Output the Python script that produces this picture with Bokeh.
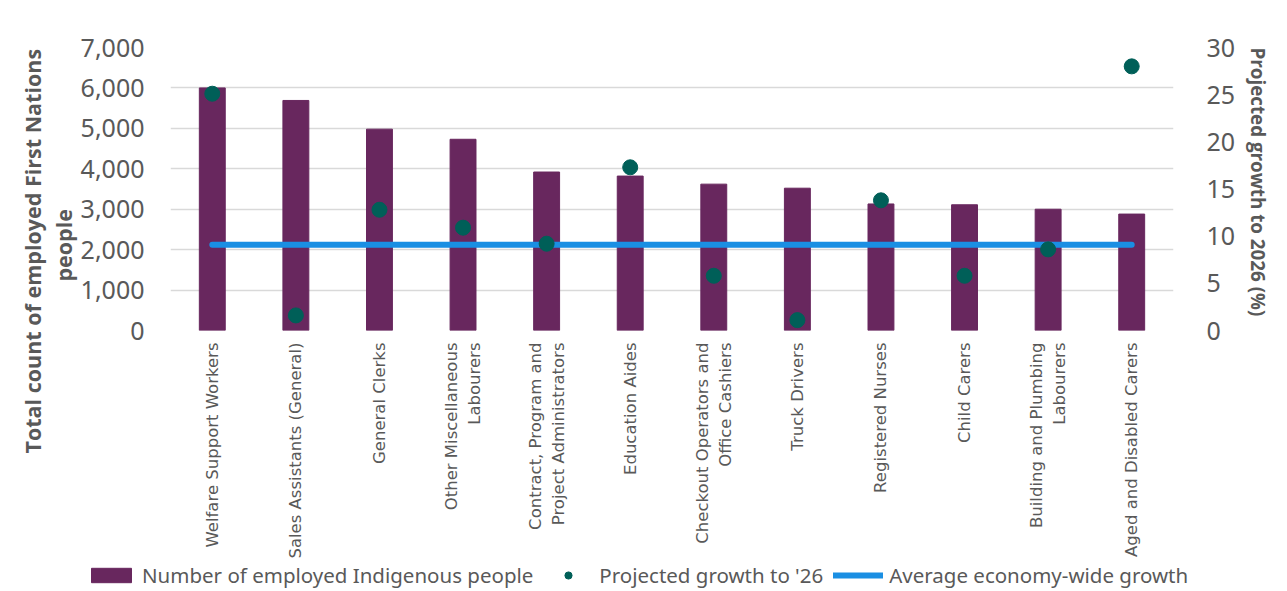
from math import pi
from bokeh.plotting import figure
from bokeh.layouts import column
from bokeh.models import (Range1d, FactorRange, LinearAxis, Legend, LegendItem, Title,
                          NumeralTickFormatter, FixedTicker, ColumnDataSource)
from bokeh.embed import file_html
from bokeh.resources import INLINE

occupations = ["Welfare Support Workers", "Sales Assistants (General)", "General Clerks",
               "Other Miscellaneous\nLabourers", "Contract, Program and\nProject Administrators",
               "Education Aides", "Checkout Operators and\nOffice Cashiers", "Truck Drivers",
               "Registered Nurses", "Child Carers", "Building and Plumbing\nLabourers",
               "Aged and Disabled Carers"]
employed = [6000, 5690, 4980, 4730, 3920, 3820, 3620, 3520, 3130, 3110, 3000, 2880]
growth = [25.1, 1.6, 12.8, 10.9, 9.2, 17.3, 5.8, 1.1, 13.8, 5.8, 8.6, 28.0]
avg_growth_value = 9.1
left_ticks = [0, 1000, 2000, 3000, 4000, 5000, 6000, 7000]
right_ticks = [0, 5, 10, 15, 20, 25, 30]

avg_growth = [avg_growth_value for _ in occupations]
src = ColumnDataSource(dict(occ=occupations, emp=employed, gr=growth, avg=avg_growth))

GREY = "#595959"
BAR_C = "#68275E"
PT_C = "#005F58"
LINE_C = "#1A8FE3"


def draw(fig):
    b = fig.vbar(x="occ", top="emp", width=0.31, source=src, fill_color=BAR_C, line_color=BAR_C)
    ln = fig.line(x="occ", y="avg", source=src, y_range_name="right", line_color=LINE_C,
                  line_width=6, line_cap="round")
    pt = fig.scatter(x="occ", y="gr", source=src, y_range_name="right", size=15,
                     fill_color=PT_C, line_color=PT_C)
    return b, pt, ln


p = figure(x_range=FactorRange(*occupations), y_range=Range1d(0, 7000), width=1287, height=561,
           output_backend="svg", toolbar_location=None,
           min_border_left=170, min_border_right=114, min_border_top=47, min_border_bottom=230)
p.extra_y_ranges = {"right": Range1d(0, 30)}
p.outline_line_color = None
draw(p)

p.xgrid.visible = False
p.ygrid.grid_line_color = "#D9D9D9"
p.ygrid.grid_line_width = 1.5
p.ygrid.ticker = FixedTicker(ticks=left_ticks)

yl = p.yaxis[0]
yl.ticker = FixedTicker(ticks=left_ticks)
yl.formatter = NumeralTickFormatter(format="0,0")
yr = LinearAxis(y_range_name="right", ticker=FixedTicker(ticks=right_ticks))
yr.axis_label = "Projected growth to 2026 (%)"
yr.axis_label_text_font = "Open Sans"
yr.axis_label_text_font_style = "bold"
yr.axis_label_text_font_size = "18.8px"
yr.axis_label_text_color = GREY
yr.axis_label_standoff = 20
try:
    yr.axis_label_orientation = -pi / 2
except Exception:
    pass
try:
    yr.axis_label_align = "end"
except Exception:
    pass
p.add_layout(yr, "right")
for ax in (yl, yr):
    ax.axis_line_color = None
    ax.major_tick_line_color = None
    ax.minor_tick_line_color = None
    ax.major_label_text_font = "Noto Sans"
    ax.major_label_text_font_size = "25px"
    ax.major_label_text_color = GREY
yl.major_label_standoff = 20
yr.major_label_standoff = 27

xa = p.xaxis[0]
xa.axis_line_color = None
xa.major_tick_line_color = None
xa.major_label_orientation = pi / 2
xa.major_label_text_font = "DejaVu Sans"
xa.major_label_text_font_size = "16.5px"
xa.major_label_text_color = GREY
xa.major_label_standoff = 6

title_kw = dict(align="left", text_font="Open Sans", text_font_style="bold",
                text_font_size="21.5px", text_color=GREY, standoff=0)
p.add_layout(Title(text="people", offset=49, **title_kw), "left")
p.add_layout(Title(text="Total count of employed First Nations", offset=-123, **title_kw), "left")

# legend strip below the chart (same series; their values sit outside this strip's visible y-range)
lf = figure(width=1287, height=30, output_backend="svg", toolbar_location=None,
            x_range=FactorRange(*occupations), y_range=Range1d(100000, 200000),
            min_border_left=0, min_border_right=0, min_border_top=0, min_border_bottom=0)
lf.extra_y_ranges = {"right": Range1d(1000, 2000)}
lf.axis.visible = False
lf.grid.visible = False
lf.outline_line_color = None
lb, lp, ll = draw(lf)
for fig in (p, lf):
    try:
        fig.frame_align = False
    except Exception:
        pass

legend = Legend(items=[
    LegendItem(label="Number of employed Indigenous people", renderers=[lb]),
    LegendItem(label="Projected growth to '26", renderers=[lp]),
    LegendItem(label="Average economy-wide growth", renderers=[ll]),
], orientation="horizontal", location=(86, 2), border_line_color=None,
   background_fill_alpha=0, label_text_font="Noto Sans", label_text_font_size="20.5px",
   label_text_color=GREY, glyph_width=50, glyph_height=18, spacing=10,
   label_standoff=6, margin=0, padding=2)
lf.add_layout(legend, "center")

layout = column(p, lf, spacing=0)
open("out.html", "w").write(file_html(layout, INLINE))
